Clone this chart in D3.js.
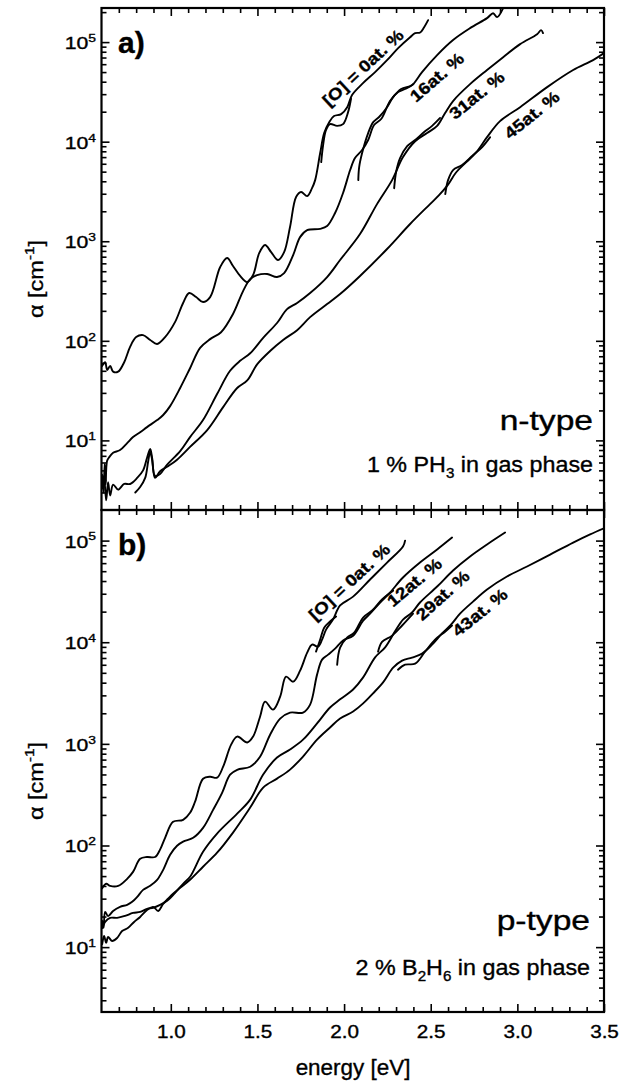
<!DOCTYPE html>
<html>
<head>
<meta charset="utf-8">
<script src="https://cdn.jsdelivr.net/npm/d3@7"></script>
<style>
  body { margin: 0; background: #fff; }
  svg { display: block; }
  text { font-family: "Liberation Sans", Arial, Helvetica, sans-serif; fill: #000; stroke: #000; stroke-width: 0.35; }
</style>
</head>
<body>
<div id="chart"></div>
<script>
// ------------------------------------------------------------------
// Data : [energy (eV), alpha (cm-1)]
// a) n-type, 1 % PH3
var nOx0 = [[0.604,56],[0.621,61],[0.633,51],[0.650,56],[0.667,49],[0.696,49],[0.731,61],[0.765,87],[0.800,109],[0.840,114],[0.881,102],[0.921,93],[0.967,109],[1.025,155],[1.071,240],[1.106,302],[1.146,275],[1.186,245],[1.227,275],[1.285,551],[1.325,678],[1.359,564],[1.400,448],[1.440,389],[1.475,458],[1.510,760],[1.544,916],[1.579,778],[1.619,648],[1.654,778],[1.688,1390],[1.723,2780],[1.752,3120],[1.787,2840],[1.815,3420],[1.833,4110],[1.862,7690],[1.885,12200],[1.914,15700],[1.942,18100],[1.983,18900],[2.018,22200],[2.046,29400],[2.109,38700],[2.179,50000],[2.248,65900],[2.312,87100],[2.381,112000],[2.410,123000],[2.439,125000],[2.462,141000],[2.485,166000]];
var nOx0b = [[1.868,6240],[1.879,9250],[1.896,13100],[1.919,15000],[1.960,14400],[1.994,15000],[2.023,19800],[2.040,27000]];
var nOx16 = [[0.604,4.5],[0.612,3.0],[0.618,5.8],[0.624,3.6],[0.632,6.2],[0.645,6.8],[0.667,7.5],[0.707,8.0],[0.748,9.4],[0.782,10.8],[0.823,12.1],[0.863,13.6],[0.921,16.0],[0.956,18.0],[0.996,22.1],[1.054,33.6],[1.111,53],[1.169,85],[1.227,104],[1.290,122],[1.359,186],[1.417,316],[1.458,417],[1.498,457],[1.556,469],[1.613,437],[1.654,479],[1.706,726],[1.746,1100],[1.787,1290],[1.862,1330],[1.902,1420],[1.948,1920],[1.994,3050],[2.035,5190],[2.063,6850],[2.104,8240],[2.139,10400],[2.173,14700],[2.214,16900],[2.265,25600],[2.312,31500],[2.352,33800],[2.393,37000],[2.450,50000],[2.537,74100],[2.629,105000],[2.727,138000],[2.825,174000],[2.860,195000],[2.883,178000],[2.918,219000]];
var nOx16b = [[2.082,4110],[2.087,5560],[2.104,7690],[2.139,12200],[2.168,15700],[2.202,17700],[2.248,22200],[2.283,28000],[2.329,33800],[2.381,36200],[2.400,38000]];
var nOx31 = [[0.604,3.3],[0.615,4.2],[0.627,2.5],[0.638,3.8],[0.650,2.8],[0.667,3.6],[0.696,3.2],[0.731,3.65],[0.765,3.65],[0.806,4.2],[0.840,5.0],[0.863,6.7],[0.881,8.2],[0.892,6.7],[0.909,4.4],[0.938,4.6],[0.979,5.7],[1.054,7.8],[1.111,10.8],[1.186,16.0],[1.267,29.2],[1.342,50],[1.400,63],[1.458,75],[1.533,107],[1.613,151],[1.671,208],[1.729,240],[1.804,302],[1.902,437],[1.977,648],[2.092,1180],[2.190,2360],[2.277,4110],[2.340,7000],[2.410,10100],[2.479,12200],[2.537,14400],[2.583,19400],[2.629,25600],[2.727,37800],[2.825,52400],[2.918,70600],[3.016,95500],[3.114,120000],[3.137,132000],[3.148,123000]];
var nOx31b = [[2.289,3410],[2.300,4930],[2.323,6820],[2.364,9000],[2.416,10600],[2.462,12500],[2.508,14400],[2.554,17300]];
var nOx45 = [[0.795,3.0],[0.823,3.4],[0.852,4.2],[0.869,6.1],[0.881,7.7],[0.892,6.4],[0.909,4.2],[0.938,4.9],[0.984,5.5],[1.036,6.4],[1.111,8.6],[1.210,12.7],[1.302,21.6],[1.383,33.6],[1.441,40],[1.498,58],[1.573,79],[1.648,102],[1.729,128],[1.804,173],[1.902,234],[1.977,295],[2.092,448],[2.248,836],[2.381,1490],[2.496,2360],[2.548,2900],[2.600,3700],[2.646,4900],[2.704,6200],[2.762,7800],[2.825,11100],[2.900,16100],[3.016,22200],[3.172,35300],[3.322,52400],[3.437,65900],[3.500,77600]];
var nOx45b = [[2.584,2980],[2.600,4110],[2.629,5190],[2.681,5820],[2.739,7170],[2.797,8830],[2.843,11100]];

// b) p-type, 2 % B2H6
var pOx0 = [[0.604,38],[0.627,42],[0.650,40],[0.696,40],[0.748,47],[0.782,55],[0.823,74],[0.863,77],[0.909,77],[0.938,91],[0.967,119],[1.013,171],[1.071,179],[1.111,210],[1.140,270],[1.186,454],[1.227,475],[1.267,465],[1.302,596],[1.348,982],[1.383,1180],[1.441,1030],[1.475,1180],[1.515,1850],[1.544,2600],[1.590,2170],[1.631,2910],[1.665,4580],[1.706,4090],[1.746,5250],[1.787,7900],[1.815,9480],[1.850,9060],[1.873,10600],[1.896,13300],[1.936,16700],[1.977,23000],[2.052,28100],[2.150,41400],[2.248,60800],[2.340,87500],[2.352,100000]];
var pOx0b = [[1.838,8090],[1.862,10600],[1.885,13900],[1.919,16000],[1.954,17900]];
var pOx12 = [[0.604,18.1],[0.612,15.5],[0.621,22.2],[0.638,20.2],[0.667,22.7],[0.707,24.9],[0.748,26.1],[0.777,27.9],[0.806,31.2],[0.840,36.6],[0.881,40.1],[0.921,45.9],[0.956,57.6],[0.996,80.9],[1.036,99.3],[1.071,109],[1.129,119],[1.186,149],[1.244,224],[1.296,330],[1.342,497],[1.383,556],[1.458,596],[1.515,747],[1.573,1230],[1.631,1770],[1.688,2030],[1.763,2030],[1.804,2430],[1.844,4800],[1.873,6740],[1.908,7550],[1.948,8650],[1.994,10400],[2.052,11600],[2.110,16300],[2.150,19100],[2.208,24600],[2.265,30800],[2.340,43300],[2.438,60800],[2.537,81700],[2.623,107000]];
var pOx12b = [[1.960,6010],[1.977,8860],[2.017,11100],[2.058,12400],[2.110,17500],[2.162,20500],[2.219,26300],[2.283,32200]];
var pOx29 = [[0.604,15.4],[0.621,17.7],[0.650,19.4],[0.690,19.4],[0.736,20.3],[0.782,21.7],[0.823,22.2],[0.863,23.8],[0.898,24.4],[0.938,26.1],[0.979,28.6],[1.025,34.3],[1.071,42.0],[1.111,49.2],[1.186,86.8],[1.267,131],[1.383,206],[1.458,283],[1.533,499],[1.613,734],[1.688,880],[1.763,1100],[1.844,1590],[1.919,2280],[1.977,2740],[2.052,3430],[2.110,4510],[2.179,7100],[2.237,8910],[2.294,12800],[2.340,16700],[2.392,19600],[2.438,24600],[2.537,35300],[2.629,50800],[2.727,69800],[2.825,91600],[2.929,120000]];
var pOx29b = [[2.196,8070],[2.219,10100],[2.277,11600],[2.335,14600],[2.398,19100]];
var pOx43 = [[0.604,10.7],[0.615,12.9],[0.627,11.0],[0.638,12.6],[0.661,11.5],[0.690,12.3],[0.719,14.4],[0.754,15.5],[0.788,17.7],[0.823,19.8],[0.863,23.2],[0.898,24.9],[0.927,22.7],[0.956,26.7],[0.984,29.9],[1.013,33.5],[1.054,38.3],[1.111,46.0],[1.186,61.8],[1.267,84.9],[1.359,134],[1.458,236],[1.533,371],[1.613,455],[1.688,558],[1.763,750],[1.844,1100],[1.919,1450],[1.977,1780],[2.052,2080],[2.110,2500],[2.167,3140],[2.225,4030],[2.283,5620],[2.335,6590],[2.392,7060],[2.450,7730],[2.508,9480],[2.565,12200],[2.617,14900],[2.669,19100],[2.744,25100],[2.825,33000],[2.940,44300],[3.056,55600],[3.189,72900],[3.322,95600],[3.420,115000],[3.500,132000]];
var pOx43b = [[2.311,5370],[2.352,6010],[2.410,6150],[2.467,8070],[2.525,10600],[2.583,12700],[2.623,14600]];

var nLabels = ["[O] = 0at. %", "16at. %", "31at. %", "45at. %"];
var pLabels = ["[O] = 0at. %", "12at. %", "29at. %", "43at. %"];
var xMajor = [1.0, 1.5, 2.0, 2.5, 3.0, 3.5];
var xTickLabels = ["1.0", "1.5", "2.0", "2.5", "3.0", "3.5"];
var yExponents = [1, 2, 3, 4, 5];

// ------------------------------------------------------------------
var width = 639, height = 1082;
var x = d3.scaleLinear().domain([0.6, 3.5]).range([101.5, 604]);

var panels = [
  { top: 8, bottom: 510, y: d3.scaleLog().domain([2, 2.2e5]).range([510, 8]),
    series: [nOx0, nOx0b, nOx16, nOx16b, nOx31, nOx31b, nOx45, nOx45b],
    labels: nLabels,
    labelAt: [[1.913, 22200, -43], [2.415, 24400, -41], [2.640, 16400, -39], [2.958, 10400, -39]],
    tag: "a)", tagY: 53, type: "n-type", typeY: 430,
    gas: [["1 % PH"], ["3", "sub"], [" in gas phase"]], gasY: 472, textRight: 593 },
  { top: 510, bottom: 1012, y: d3.scaleLog().domain([2.3, 2.0e5]).range([1012, 510]),
    series: [pOx0, pOx0b, pOx12, pOx12b, pOx29, pOx29b, pOx43, pOx43b],
    labels: pLabels,
    labelAt: [[1.834, 16000, -43], [2.283, 21900, -40], [2.451, 16000, -42], [2.658, 11100, -39]],
    tag: "b)", tagY: 555, type: "p-type", typeY: 930,
    gas: [["2 % B"], ["2", "sub"], ["H"], ["6", "sub"], [" in gas phase"]], gasY: 975, textRight: 590 }
];

var svg = d3.select("#chart").append("svg")
  .attr("width", width)
  .attr("height", height);

// text with a horizontal stretch (the scanned font is wider than Arial)
function put(g, px, py, size, opt) {
  opt = opt || {};
  return g.append("text")
    .attr("transform", "translate(" + px + "," + py + ") rotate(" + (opt.rotate || 0) + ") scale(" + (opt.sx || 1) + ",1)")
    .attr("font-size", size)
    .attr("font-weight", opt.bold ? "bold" : "normal")
    .attr("text-anchor", opt.anchor || "start");
}
function addParts(t, parts, size) {
  var shift = 0;
  parts.forEach(function (p) {
    var s = t.append("tspan").text(p[0]);
    var want = p[1] == "sub" ? 0.28 * size : (p[1] == "sup" ? -0.42 * size : 0);
    s.attr("dy", want - shift);
    if (p[1]) s.attr("font-size", size * 0.65);
    shift = want;
  });
}

var x0 = x.range()[0], x1 = x.range()[1];

panels.forEach(function (p, k) {
  var g = svg.append("g");
  var y = p.y;

  // ---- curves
  g.append("clipPath").attr("id", "clip" + k)
    .append("rect").attr("x", x0).attr("y", p.top).attr("width", x1 - x0).attr("height", p.bottom - p.top);

  var line = d3.line()
    .x(function (d) { return x(d[0]); })
    .y(function (d) { return y(d[1]); })
    .curve(d3.curveCatmullRom.alpha(0.5));

  g.append("g").attr("clip-path", "url(#clip" + k + ")")
    .selectAll("path").data(p.series).enter().append("path")
    .attr("d", line)
    .attr("fill", "none")
    .attr("stroke", "#000")
    .attr("stroke-width", 1.9)
    .attr("stroke-linejoin", "round")
    .attr("stroke-linecap", "round");

  // ---- ticks (all inward)
  var majors = yExponents.map(function (e) { return Math.pow(10, e); });
  var minors = [];
  for (var e = 0; e <= 5; e++)
    for (var m = 2; m <= 9; m++) {
      var v = m * Math.pow(10, e);
      if (v > y.domain()[0] && v < y.domain()[1]) minors.push(v);
    }
  var xMinor = d3.range(7, 35).map(function (d) { return d / 10; }).filter(function (d) { return xMajor.indexOf(d) < 0; });

  function tickAxis(axis, tr, values, size) {
    var a = g.append("g").attr("transform", tr)
      .call(axis.tickValues(values).tickSize(-size).tickFormat(""));
    a.select(".domain").remove();
    a.selectAll("line").attr("stroke", "#000").attr("stroke-width", 1.6);
  }
  tickAxis(d3.axisLeft(y), "translate(" + x0 + ",0)", majors, 8);
  tickAxis(d3.axisLeft(y), "translate(" + x0 + ",0)", minors, 5);
  tickAxis(d3.axisRight(y), "translate(" + x1 + ",0)", majors, 8);
  tickAxis(d3.axisRight(y), "translate(" + x1 + ",0)", minors, 5);
  tickAxis(d3.axisTop(x), "translate(0," + p.top + ")", xMajor, 8);
  tickAxis(d3.axisTop(x), "translate(0," + p.top + ")", xMinor, 5);
  tickAxis(d3.axisBottom(x), "translate(0," + p.bottom + ")", xMajor, 8);
  tickAxis(d3.axisBottom(x), "translate(0," + p.bottom + ")", xMinor, 5);

  // ---- frame
  g.append("rect")
    .attr("x", x0).attr("y", p.top)
    .attr("width", x1 - x0).attr("height", p.bottom - p.top)
    .attr("fill", "none").attr("stroke", "#000").attr("stroke-width", 2.2);

  // ---- y tick labels 10^n
  yExponents.forEach(function (e) {
    var t = put(g, 96, y(Math.pow(10, e)) + 7, 17, { sx: 1.25, anchor: "end" });
    addParts(t, [["10"], [String(e), "sup"]], 17);
  });

  // ---- y title
  var ty = put(g, 43, (p.top + p.bottom) / 2 + 20, 21, { rotate: -90, sx: 1.12, anchor: "middle" });
  addParts(ty, [["\u03b1 [cm"], ["-1", "sup"], ["]"]], 21);

  // ---- curve labels
  p.labels.forEach(function (s, i) {
    var at = p.labelAt[i];
    put(g, x(at[0]), y(at[1]), 16.5, { rotate: at[2], sx: 1.15, bold: true }).text(s);
  });

  // ---- panel texts
  put(g, 118, p.tagY, 30, { bold: true }).text(p.tag);
  put(g, p.textRight, p.typeY, 28, { sx: 1.2, anchor: "end" }).text(p.type);
  addParts(put(g, p.textRight, p.gasY, 22, { sx: 1.06, anchor: "end" }), p.gas, 22);
});

// ---- x tick labels and title (bottom panel only)
var xl = svg.append("g").attr("transform", "translate(0,1012)")
  .call(d3.axisBottom(x).tickValues(xMajor).tickSize(0).tickPadding(13)
    .tickFormat(function (d, i) { return xTickLabels[i]; }));
xl.select(".domain").remove();
xl.attr("font-family", null).attr("font-size", null);
xl.selectAll("text").attr("font-size", 18).attr("transform", "scale(1.15,1)");

put(svg, 353, 1075, 22, { anchor: "middle", sx: 1.02 }).text("energy [eV]");
</script>
</body>
</html>
